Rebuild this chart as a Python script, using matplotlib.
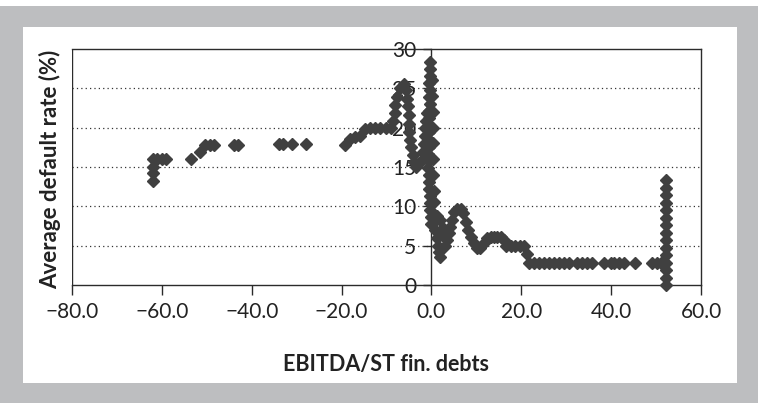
import matplotlib
matplotlib.use('Agg')
import matplotlib.pyplot as plt
from matplotlib.patches import Rectangle
from matplotlib.ticker import FuncFormatter

plt.rcParams['font.family'] = ['Lato', 'DejaVu Sans']

# ------------ DATA ---------------------------------------------------

# far left tail
tail_x = [-62.0, -62.0, -62.0, -62.0, -61.0, -60.0, -59.0,
          -53.5, -51.5, -50.3, -49.3, -48.4, -44.0, -43.0,
          -34.0, -33.0, -31.0, -28.0]
tail_y = [13.2, 14.2, 15.0, 16.0, 16.0, 16.0, 16.0,
          16.0, 16.9, 17.8, 17.8, 17.8, 17.8, 17.8,
          17.9, 17.9, 17.9, 17.9]

# run-up and double peak left of zero
peak_x = [-19.3, -18.2, -17.0, -15.9, -14.8, -13.7, -12.6, -11.4, -10.2, -9.1,
          -8.6, -8.2, -8.0, -7.7, -7.0, -6.2, -5.6,
          -5.4, -5.2, -5.0, -5.0, -4.9, -4.7, -4.5, -4.2, -3.9, -3.5,
          -2.8, -2.2, -1.9, -1.7, -1.5, -1.4, -1.2, -1.0]
peak_y = [17.8, 18.5, 18.8, 18.9, 19.8, 19.9, 19.9, 19.9, 19.9, 19.9,
          20.9, 21.9, 22.9, 23.9, 25.0, 25.5, 24.8,
          23.7, 22.7, 21.6, 20.5, 19.5, 18.4, 17.5, 16.5, 15.6, 15.0,
          15.5, 15.9, 16.9, 17.9, 18.9, 19.9, 20.9, 21.9]

# dense column around zero
core_x = [-0.3, -0.4, -0.3, -0.5, -0.4, -0.5, -0.4, -0.6, -0.5, -0.6, -0.5, -0.7,
          -0.6, -0.7, -0.6, -0.7, -0.6, -0.5, -0.5, -0.4, -0.4, -0.3, -0.2, -0.2,
          0.2, 0.2, 0.3, 0.3, 0.3, 0.4, 0.4, 0.5, 0.5,
          0.6, 0.9, 1.2, 1.4, 1.7, 1.9,
          1.2, 2.0, 2.5, 2.9]
core_y = [28.4, 27.5, 26.6, 25.7, 24.8, 23.9, 23.0, 22.1, 21.2, 20.3, 19.4, 18.5,
          17.6, 16.7, 15.8, 14.9, 14.0, 13.1, 12.2, 11.3, 10.4, 9.5, 8.6, 7.7,
          26.0, 24.0, 22.0, 20.0, 18.0, 16.0, 14.0, 12.0, 10.5,
          8.0, 7.0, 6.0, 5.0, 4.2, 3.6,
          8.8, 8.2, 7.3, 6.5]

# decay to the right
right_x = [3.1, 3.5, 3.8, 4.2, 4.6, 5.1, 5.7, 6.5, 7.1, 7.6, 8.1, 8.7, 9.4,
           10.2, 10.9, 11.7, 12.4, 13.2, 13.9, 14.7, 15.4, 16.1,
           16.5, 17.6, 18.7, 19.8, 20.6, 21.3,
           21.7, 22.8, 23.9, 25.0, 26.1, 27.2, 28.4, 29.5, 30.6,
           32.4, 33.6, 34.7, 35.8, 38.4, 39.9, 40.6, 41.7, 42.8, 45.4,
           49.2, 50.3, 51.0]
right_y = [4.9, 5.7, 6.6, 7.4, 8.3, 9.3, 9.7, 9.7, 9.1, 8.0, 7.0, 6.1, 5.3,
           4.7, 4.7, 5.3, 6.0, 6.1, 6.1, 6.1, 6.1, 5.7,
           4.9, 4.9, 4.9, 4.9, 4.9, 3.9,
           2.8, 2.8, 2.8, 2.8, 2.8, 2.8, 2.8, 2.8, 2.8,
           2.8, 2.8, 2.8, 2.8, 2.8, 2.8, 2.8, 2.8, 2.8, 2.8,
           2.8, 2.8, 2.8]

# vertical stack at the far right
edge_x = [52.1, 52.1, 52.1, 52.1, 52.1, 52.1, 52.1, 52.1,
          52.1, 52.1, 52.1, 52.1, 52.1, 52.1, 52.1]
edge_y = [0.0, 0.95, 1.9, 2.85, 3.8, 4.75, 5.7, 6.65,
          7.6, 8.55, 9.5, 10.45, 11.4, 12.35, 13.3]

x_ticks = [-80, -60, -40, -20, 0, 20, 40, 60]
y_ticks = [0, 5, 10, 15, 20, 25, 30]

# ------------ PLOT ----------------------------

W, H = 758, 403
fig = plt.figure(figsize=(W / 100, H / 100), dpi=100)
fig.patch.set_facecolor('white')
# grey frame and white panel
fig.patches.append(Rectangle((0, 0), 1, 1 - 6 / H, transform=fig.transFigure,
                             facecolor='#bdbec0', edgecolor='none', zorder=-10))
fig.patches.append(Rectangle((23 / W, 20 / H), 714 / W, 356 / H, transform=fig.transFigure,
                             facecolor='white', edgecolor='none', zorder=-9))

ax = fig.add_axes([72 / W, 118 / H, 629 / W, 236 / H])
ax.set_facecolor('none')
ax.set_xlim(-80, 60)
ax.set_ylim(0, 30)

mk = dict(marker='D', ms=6.5, color='#404040', mec='#404040', lw=0, clip_on=False, zorder=3)
for xs, ys in [(tail_x, tail_y), (peak_x, peak_y), (core_x, core_y),
               (right_x, right_y), (edge_x, edge_y)]:
    ax.plot(xs, ys, **mk)

line_c = '#2b2b2b'
for s in ax.spines.values():
    s.set_color(line_c)
    s.set_linewidth(1.0)
ax.spines['left'].set_position(('data', 0))
ax.axvline(-80, color=line_c, lw=1.0, zorder=2)

ax.set_xticks(x_ticks)
ax.set_yticks(y_ticks)
ax.xaxis.set_major_formatter(FuncFormatter(lambda v, p: f'{v:.1f}'.replace('-', '\u2212')))
ax.yaxis.set_major_formatter(FuncFormatter(lambda v, p: f'{v:.0f}'))
ax.tick_params(axis='x', direction='out', length=7, width=1.0, color=line_c,
               pad=5, labelsize=15, labelcolor='#222222')
ax.tick_params(axis='y', direction='out', length=6, width=1.0, color=line_c,
               pad=5, labelsize=15, labelcolor='#222222')

for yv in y_ticks[1:-1]:
    ax.axhline(yv, color='#333333', lw=0.9, ls=(0, (1, 2.5)), zorder=1)

fig.text(50 / W, 1 - 169 / H, 'Average default rate (%)', rotation=90,
         ha='center', va='center', fontsize=16, fontweight='bold', color='#222222')
fig.text(386 / W, 1 - 364 / H, 'EBITDA/ST fin. debts',
         ha='center', va='center', fontsize=15.5, fontweight='bold', color='#222222')

fig.savefig('out.png', dpi=100)
